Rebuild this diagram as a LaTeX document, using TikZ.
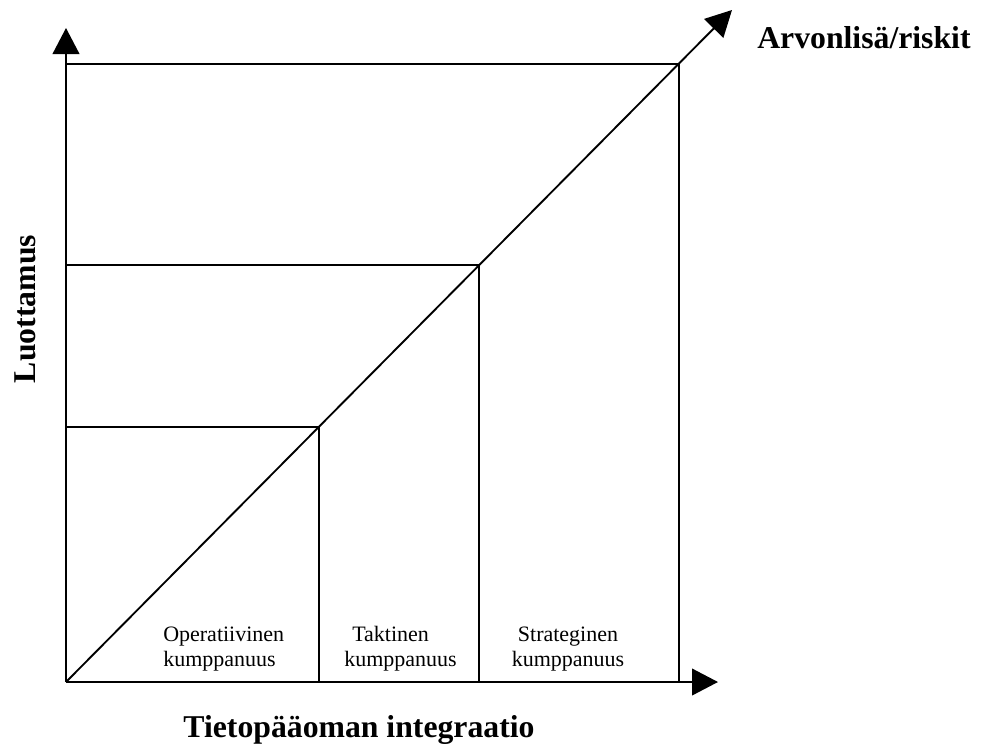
\documentclass[tikz,border=0pt]{standalone}
\usepackage{fontspec}
\setmainfont{Liberation Serif}
\usetikzlibrary{arrows.meta}
\tikzset{
    axis/.style={line width=1.4pt,-{Triangle[length=19.5pt,width=20pt]}},
    frame/.style={line width=1.4pt},
    bigtext/.style={font=\fontsize{23.8}{27}\selectfont\bfseries,inner sep=0pt},
    kind/.style={font=\fontsize{16.5}{18.75}\selectfont,inner sep=0pt},
}

\begin{document}
\begin{tikzpicture}[x=0.75pt,y=-0.75pt]
    \useasboundingbox (0,0) rectangle (992,744);
    \coordinate (Origin) at (66,682);
    \coordinate (YEnd) at (66,28);
    \coordinate (XEnd) at (718,682);
    \coordinate (DEnd) at (732,10);
    \coordinate (c1) at (319,427);
    \coordinate (c2) at (479,265);
    \coordinate (c3) at (679,64);
    % squares
    \foreach \c in {c1,c2,c3}
        \draw[frame] (Origin |- \c) -| (\c |- Origin);
    % axes
    \draw[axis] (Origin) -- (YEnd);
    \draw[axis] (Origin) -- (XEnd);
    \draw[axis] (Origin) -- (DEnd);
    \node[bigtext,anchor=base west] (value) at (757,48) {Arvonlisä/riskit};
    \node[bigtext,anchor=base] (integ) at (359,737) {Tietopääoman integraatio};
    \node[bigtext,rotate=90,anchor=base] (trust) at (35,309) {Luottamus};
    % partnership kinds
    \node[kind,anchor=south west,align=left] (oper) at (163,671) {Operatiivinen\\kumppanuus};
    \node[kind,anchor=south west,align=left] (takt) at (344,671) {\hspace{6pt}Taktinen\\kumppanuus};
    \node[kind,anchor=south,align=center] (strat) at (568,671) {Strateginen\\kumppanuus};
\end{tikzpicture}
\end{document}
